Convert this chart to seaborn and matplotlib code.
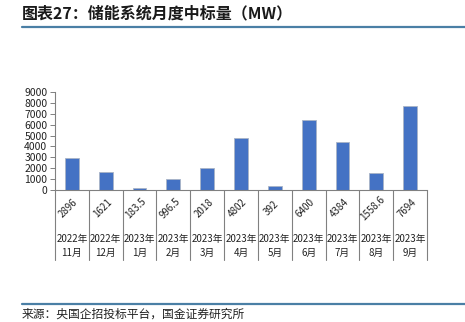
import matplotlib
matplotlib.use("Agg")
import matplotlib.pyplot as plt
import matplotlib.transforms as mtransforms
import seaborn as sns
import pandas as pd

# Monthly storage-system tender volumes (MW)
years = ["2022年", "2022年", "2023年", "2023年", "2023年", "2023年",
         "2023年", "2023年", "2023年", "2023年", "2023年"]
months = ["11月", "12月", "1月", "2月", "3月", "4月",
          "5月", "6月", "7月", "8月", "9月"]
values = [2896, 1621, 183.5, 996.5, 2018, 4802, 392, 6400, 4384, 1558.6, 7694]
value_labels = ["2896", "1621", "183.5", "996.5", "2018", "4802",
                "392", "6400", "4384", "1558.6", "7694"]
y_ticks = list(range(0, 9001, 1000))

title = "图表27：储能系统月度中标量（MW）"
source = "来源：央国企招投标平台，国金证券研究所"

sns.set_theme(style="white")
plt.rcParams["font.family"] = ["Noto Sans CJK SC", "DejaVu Sans"]

W, H = 465, 322
fig = plt.figure(figsize=(W / 100, H / 100), dpi=100)
ax = fig.add_axes([55 / W, (H - 190) / H, (427 - 55) / W, (190 - 92) / H])

df = pd.DataFrame({"cat": [f"{y}{m}" for y, m in zip(years, months)], "val": values})
sns.barplot(data=df, x="cat", y="val", color="#4472C4", width=0.41,
            edgecolor="#A9B4C6", linewidth=0.6, saturation=1, ax=ax)

ax.set_ylim(0, 9000)
ax.set_xlim(-0.5, len(values) - 0.5)
ax.set_yticks(y_ticks)
ax.set_yticklabels([str(t) for t in y_ticks], fontsize=7.5, color="#222222")
ax.set_xticks([])
ax.set_xlabel("")
ax.set_ylabel("")
ax.tick_params(axis="y", which="major", direction="out", length=3.5, width=0.7,
               color="#808080", left=True, pad=2)

for side in ["top", "right"]:
    ax.spines[side].set_visible(False)
for side in ["left", "bottom"]:
    ax.spines[side].set_color("#808080")
    ax.spines[side].set_linewidth(0.8)

# Category table below the axis: separators, rotated values, year and month
trans = mtransforms.blended_transform_factory(ax.transData, ax.transAxes)
px = 1.0 / (190 - 92)
for b in [i - 0.5 for i in range(len(values) + 1)]:
    ax.plot([b, b], [0, -70 * px], transform=trans, color="#808080",
            lw=0.8, clip_on=False)

for i, (lab, yr, mo) in enumerate(zip(value_labels, years, months)):
    ax.text(i - 0.1, -18 * px, lab, transform=trans, rotation=45,
            ha="center", va="center", fontsize=7, color="#222222",
            rotation_mode="anchor")
    ax.text(i, -49 * px, yr, transform=trans, ha="center", va="center",
            fontsize=7, color="#222222")
    ax.text(i, -63 * px, mo, transform=trans, ha="center", va="center",
            fontsize=7, color="#222222")

# Header and footer
fig.text(22 / W, 1 - 13 / H, title, fontsize=11.5, fontweight="bold",
         style="italic", color="#1a1a1a", ha="left", va="center")
fig.add_artist(plt.Line2D([22 / W, 1], [1 - 27 / H, 1 - 27 / H],
                          color="#4A7FA5", lw=1.6, transform=fig.transFigure))
fig.add_artist(plt.Line2D([22 / W, 1], [1 - 304 / H, 1 - 304 / H],
                          color="#4A7FA5", lw=1.6, transform=fig.transFigure))
fig.text(22 / W, 1 - 314 / H, source, fontsize=8.5, color="#222222",
         ha="left", va="center")

fig.savefig("out.png", dpi=100)
